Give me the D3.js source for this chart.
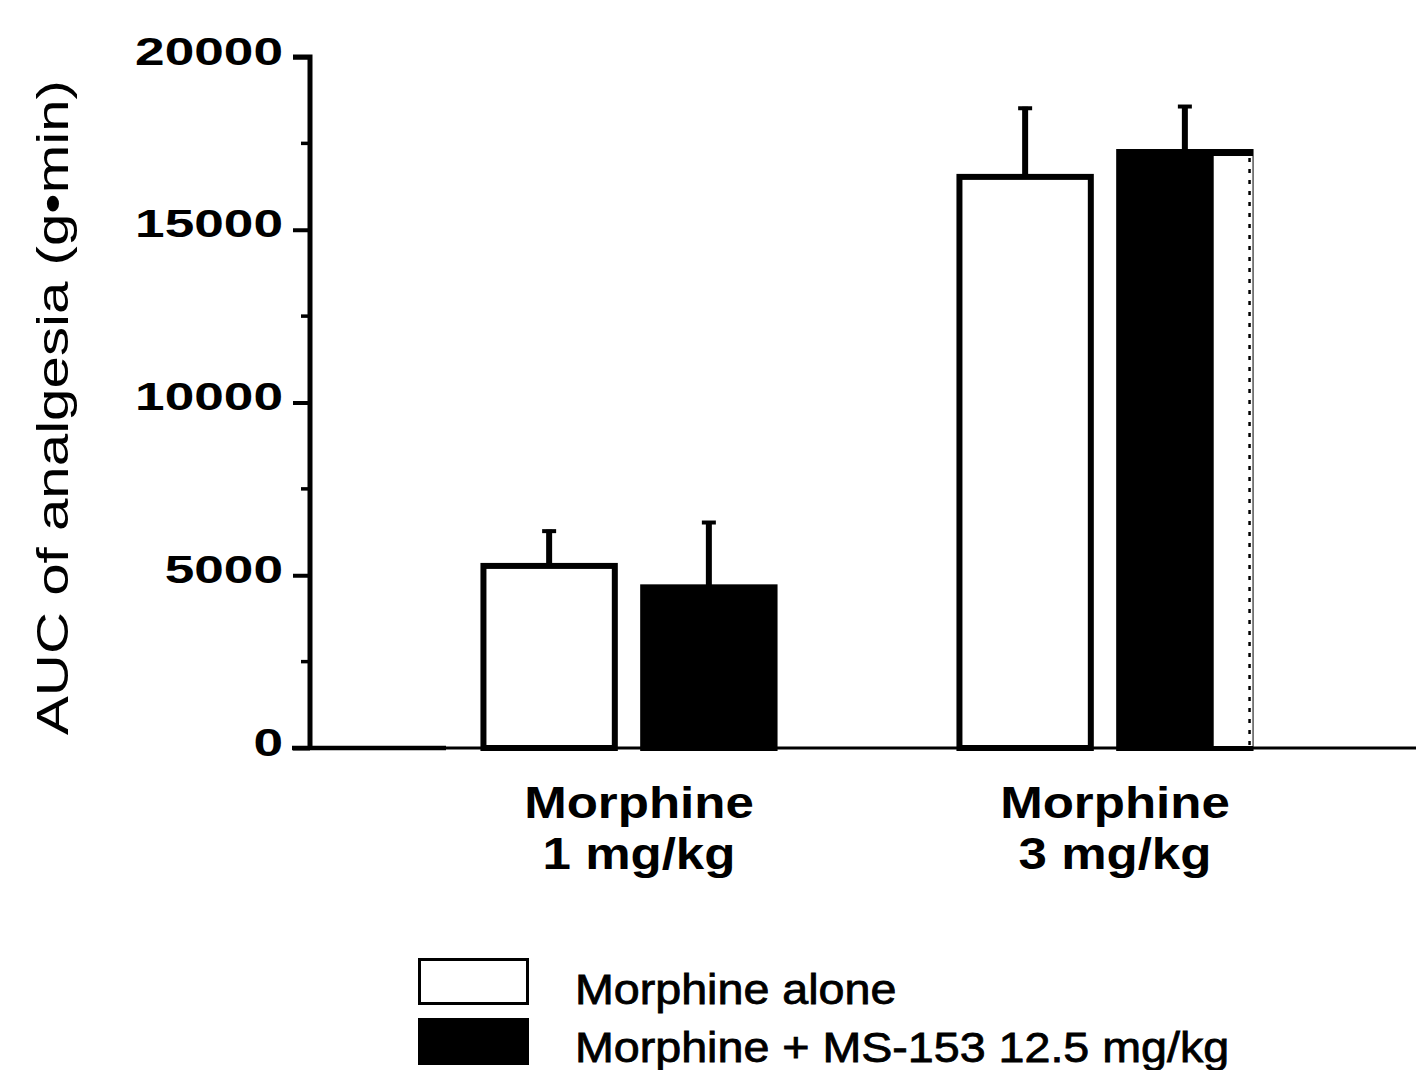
<!DOCTYPE html>
<html>
<head>
<meta charset="utf-8">
<script src="https://cdn.jsdelivr.net/npm/d3@7"></script>
<style>
  body { margin: 0; background: #fff; }
  svg text { font-family: "Liberation Sans", Arial, sans-serif; fill: #000; }
</style>
</head>
<body>
<script>
// chart data
const categories = ['Morphine 1 mg/kg', 'Morphine 3 mg/kg'];
const catLine1 = ['Morphine', 'Morphine'];
const catLine2 = ['1 mg/kg', '3 mg/kg'];
const series = ['Morphine alone', 'Morphine + MS-153 12.5 mg/kg'];
const aloneMean = [5270, 16530];
const aloneErr = [1050, 2030];
const ms153Mean = [4650, 17250];
const ms153Err = [1920, 1360];
const yTicks = [0, 5000, 10000, 15000, 20000];
const yMinorTicks = [2500, 7500, 12500, 17500];
const yTitle = 'AUC of analgesia (g\u2022min)';

const W = 1416, H = 1070;
const svg = d3.select('body').append('svg').attr('width', W).attr('height', H);

const y = d3.scaleLinear().domain([0, 20000]).range([748, 57]);
const x0 = d3.scaleBand().domain(categories).range([391, 1343]);
const x1 = d3.scaleBand().domain(series).range([0, x0.bandwidth()]).paddingInner(0.14).paddingOuter(0.56);
const axisX = 310;

const rows = [];
categories.forEach((c, i) => {
  rows.push({cat: c, s: series[0], v: aloneMean[i], e: aloneErr[i], fill: '#fff'});
  rows.push({cat: c, s: series[1], v: ms153Mean[i], e: ms153Err[i], fill: '#000'});
});

// baseline
svg.append('line').attr('x1', axisX - 18).attr('x2', W).attr('y1', y(0)).attr('y2', y(0))
  .attr('stroke', '#000').attr('stroke-width', 3);
svg.append('line').attr('x1', axisX - 18).attr('x2', x0(categories[0]) + 55).attr('y1', y(0)).attr('y2', y(0))
  .attr('stroke', '#000').attr('stroke-width', 4.5);

// error bars (drawn first, bars cover the lower part)
const eb = svg.append('g');
rows.forEach(d => {
  const cx = x0(d.cat) + x1(d.s) + x1.bandwidth() / 2;
  eb.append('line').attr('x1', cx).attr('x2', cx).attr('y1', y(d.v)).attr('y2', y(d.v + d.e))
    .attr('stroke', '#000').attr('stroke-width', 6);
  eb.append('line').attr('x1', cx - 7).attr('x2', cx + 7).attr('y1', y(d.v + d.e) + 1.5).attr('y2', y(d.v + d.e) + 1.5)
    .attr('stroke', '#000').attr('stroke-width', 4);
});

// bars
svg.append('g').selectAll('rect').data(rows).join('rect')
  .attr('x', d => x0(d.cat) + x1(d.s) + 3)
  .attr('y', d => y(d.v))
  .attr('width', x1.bandwidth() - 6)
  .attr('height', d => y(0) - y(d.v))
  .attr('fill', d => d.fill)
  .attr('stroke', '#000')
  .attr('stroke-width', 6);

// scan artefact on the last filled bar: right part left white with a dotted edge
{
  const d = rows[3];
  const bx = x0(d.cat) + x1(d.s);
  const bw = x1.bandwidth();
  const lx = bx + bw * 0.71;
  svg.append('rect').attr('x', lx).attr('y', y(d.v) + 4).attr('width', bx + bw - lx - 1)
    .attr('height', y(0) - y(d.v) - 6).attr('fill', '#fff');
  svg.append('line').attr('x1', bx + bw - 4).attr('x2', bx + bw - 4)
    .attr('y1', y(d.v) + 6).attr('y2', y(0) - 2)
    .attr('stroke', '#000').attr('stroke-width', 2.5).attr('stroke-dasharray', '4,7');
}

// y axis
const yAxis = d3.axisLeft(y).tickValues(yTicks).tickSize(17).tickPadding(8).tickFormat(d3.format('d'));
const gy = svg.append('g').attr('transform', `translate(${axisX},0)`).call(yAxis);
gy.select('.domain').attr('stroke', '#000').attr('stroke-width', 5)
  .attr('d', `M-17,${y(20000)}H0V${y(0) + 2}`);
gy.selectAll('.tick line').attr('stroke', '#000').attr('stroke-width', 4);
gy.selectAll('.tick text')
  .attr('font-size', 38).attr('font-weight', 'bold')
  .attr('text-anchor', 'end').attr('x', 0).attr('dy', 0)
  .attr('transform', 'translate(-27,-6) scale(1.4,1)')
  .attr('dominant-baseline', 'central');
gy.selectAll('.minor').data(yMinorTicks).join('line').attr('class', 'minor')
  .attr('x1', -9).attr('x2', 0).attr('y1', d => y(d)).attr('y2', d => y(d))
  .attr('stroke', '#000').attr('stroke-width', 3.5);

// y title
svg.append('text')
  .attr('transform', `translate(68,${(y(0) + y(20000)) / 2 + 5}) rotate(-90)`)
  .attr('text-anchor', 'middle')
  .attr('font-size', 44)
  .attr('textLength', 655).attr('lengthAdjust', 'spacingAndGlyphs')
  .text(yTitle);

// category labels
categories.forEach((c, i) => {
  const cx = x0(c) + x0.bandwidth() / 2 + 10;
  svg.append('text').attr('transform', `translate(${cx},818) scale(1.16,1)`)
    .attr('text-anchor', 'middle').attr('font-size', 44).attr('font-weight', 'bold').text(catLine1[i]);
  svg.append('text').attr('transform', `translate(${cx},869) scale(1.16,1)`)
    .attr('text-anchor', 'middle').attr('font-size', 44).attr('font-weight', 'bold').text(catLine2[i]);
});

// legend
const leg = svg.append('g').attr('transform', 'translate(418,958)');
const fills = ['#fff', '#000'];
series.forEach((s, i) => {
  leg.append('rect').attr('x', 1.5).attr('y', i * 60 + 1.5).attr('width', 108).attr('height', 44)
    .attr('fill', fills[i]).attr('stroke', '#000').attr('stroke-width', 3);
  leg.append('text').attr('transform', `translate(157,${i * 58 + 46}) scale(1.11,1)`)
    .attr('font-size', 42).attr('stroke', '#000').attr('stroke-width', 0.8).text(s);
});
</script>
</body>
</html>
